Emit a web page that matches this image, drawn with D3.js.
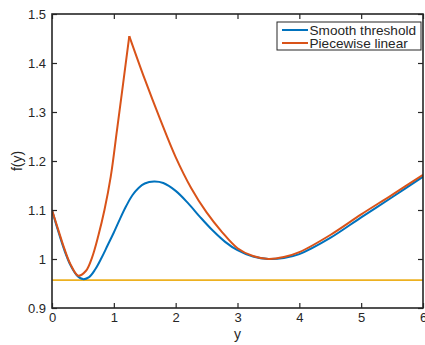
<!DOCTYPE html>
<html><head><meta charset="utf-8">
<script src="https://cdn.jsdelivr.net/npm/d3@7"></script>
<style>
html,body{margin:0;padding:0;background:#fff;}
text{font-family:"Liberation Sans",Arial,Helvetica,sans-serif;fill:#262626;}
</style></head>
<body><svg id="c" width="425" height="345"></svg>
<script>
// ---- data ----
const smoothX = [0,0.1,0.2,0.3,0.4,0.5,0.6,0.7,0.8,0.9,1.0,1.1,1.2,1.3,1.4,1.5,1.65,1.8,2.0,2.2,2.4,2.6,2.8,3.0,3.25,3.5,3.75,4.0,4.5,5.0,5.5,6.0];
const smoothY = [1.1,1.057,1.018,0.987,0.967,0.959,0.963,0.979,1.002,1.028,1.054,1.082,1.108,1.13,1.145,1.154,1.158,1.155,1.139,1.114,1.085,1.058,1.035,1.018,1.005,1.0,1.002,1.01,1.043,1.085,1.126,1.168];
const pieceX = [0,0.1,0.2,0.3,0.425,0.55,0.65,0.75,0.85,0.95,1.05,1.15,1.25,1.5,1.75,2.0,2.25,2.5,2.75,3.0,3.25,3.5,3.75,4.0,4.5,5.0,5.5,6.0];
const pieceY = [1.1,1.06,1.021,0.989,0.966,0.976,1.004,1.048,1.101,1.168,1.262,1.358,1.455,1.367,1.285,1.208,1.145,1.095,1.055,1.022,1.006,1.0,1.004,1.014,1.049,1.091,1.131,1.172];
const levelX = [0,6];
const levelY = [0.957,0.957];
const seriesNames = ["Smooth threshold","Piecewise linear"];
const xTicks = [0,1,2,3,4,5,6];
const xTickLabels = ["0","1","2","3","4","5","6"];
const yTicks = [0.9,1.0,1.1,1.2,1.3,1.4,1.5];
const yTickLabels = ["0.9","1","1.1","1.2","1.3","1.4","1.5"];

// ---- layout ----
const L=52, R=423, T=14, B=308;
const svg = d3.select("#c");
svg.append("rect").attr("width",425).attr("height",345).attr("fill","#fff");
const x = d3.scaleLinear().domain([0,6]).range([L,R]);
const y = d3.scaleLinear().domain([0.9,1.5]).range([B,T]);
const axCol = "#262626";

svg.append("clipPath").attr("id","cp").append("rect")
  .attr("x",L).attr("y",T).attr("width",R-L).attr("height",B-T);
const g = svg.append("g").attr("clip-path","url(#cp)");

const lineC = d3.line().x(d=>x(d[0])).y(d=>y(d[1])).curve(d3.curveCatmullRom.alpha(0.5));
const zip = (a,b)=>a.map((v,i)=>[v,b[i]]);

g.append("path").datum(zip(levelX,levelY)).attr("d",lineC)
  .attr("fill","none").attr("stroke","#EDB120").attr("stroke-width",1.8);
g.append("path").datum(zip(smoothX,smoothY)).attr("d",lineC)
  .attr("fill","none").attr("stroke","#0072BD").attr("stroke-width",2);
const pk = pieceY.indexOf(d3.max(pieceY));
const pc = zip(pieceX,pieceY);
g.append("path").datum(pc.slice(0,pk+1)).attr("d",lineC)
  .attr("fill","none").attr("stroke","#D95319").attr("stroke-width",2);
g.append("path").datum(pc.slice(pk)).attr("d",lineC)
  .attr("fill","none").attr("stroke","#D95319").attr("stroke-width",2);

// axes
const fs = 13;
const axB = svg.append("g").attr("transform",`translate(0,${B})`)
  .call(d3.axisBottom(x).tickValues(xTicks).tickFormat((d,i)=>xTickLabels[i]).tickSizeInner(-5).tickSizeOuter(0).tickPadding(5));
const axT = svg.append("g").attr("transform",`translate(0,${T})`)
  .call(d3.axisTop(x).tickValues(xTicks).tickFormat("").tickSizeInner(-5).tickSizeOuter(0));
const axL = svg.append("g").attr("transform",`translate(${L},0)`)
  .call(d3.axisLeft(y).tickValues(yTicks).tickFormat((d,i)=>yTickLabels[i]).tickSizeInner(-5).tickSizeOuter(0).tickPadding(6));
const axR = svg.append("g").attr("transform",`translate(${R},0)`)
  .call(d3.axisRight(y).tickValues(yTicks).tickFormat("").tickSizeInner(-5).tickSizeOuter(0));
[axB,axT,axL,axR].forEach(a=>{
  a.select(".domain").remove();
  a.selectAll("line").attr("stroke",axCol).attr("stroke-width",1.2);
  a.selectAll("text").attr("font-size",fs).attr("fill",axCol).attr("font-family",null);
});
svg.append("rect").attr("x",L).attr("y",T).attr("width",R-L).attr("height",B-T)
  .attr("fill","none").attr("stroke",axCol).attr("stroke-width",1.6);

// labels
svg.append("text").attr("x",(L+R)/2).attr("y",339).attr("text-anchor","middle").attr("font-size",14).text("y");
svg.append("text").attr("transform",`translate(22,${(T+B)/2}) rotate(-90)`).attr("text-anchor","middle").attr("font-size",14).text("f(y)");

// legend
const lg = svg.append("g");
lg.append("rect").attr("x",277).attr("y",22).attr("width",144).attr("height",28)
  .attr("fill","#fff").attr("stroke",axCol).attr("stroke-width",1);
const legCols = ["#0072BD","#D95319"];
seriesNames.forEach((n,i)=>{
  const yy = 30 + i*13;
  lg.append("line").attr("x1",282).attr("x2",308).attr("y1",yy).attr("y2",yy)
    .attr("stroke",legCols[i]).attr("stroke-width",2);
  lg.append("text").attr("x",309.5).attr("y",yy+4.6).attr("font-size",13.6).text(n);
});
</script></body></html>
